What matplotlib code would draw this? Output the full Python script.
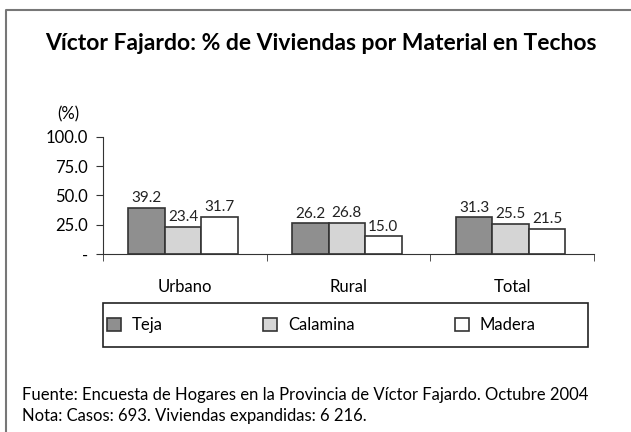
import numpy as np
import matplotlib
matplotlib.use('Agg')
import matplotlib.pyplot as plt
from matplotlib.patches import Rectangle
from matplotlib.lines import Line2D

plt.rcParams['font.family'] = ['Lato', 'DejaVu Sans']

# Data
categories = ['Urbano', 'Rural', 'Total']
series = ['Teja', 'Calamina', 'Madera']
teja = [39.2, 26.2, 31.3]
calamina = [23.4, 26.8, 25.5]
madera = [31.7, 15.0, 21.5]
yticks = [0, 25, 50, 75, 100]
ytick_labels = ['-', '25.0', '50.0', '75.0', '100.0']

colors = ['#8f8f8f', '#d5d5d5', '#ffffff']
W, H = 631, 432

fig = plt.figure(figsize=(W / 100, H / 100), dpi=100)
ax = fig.add_axes([103 / W, 1 - 254 / H, 491 / W, 117 / H])

x = np.arange(len(categories))
w = 0.223
bars = []
for i, (vals, c, name) in enumerate(zip([teja, calamina, madera], colors, series)):
    pos = x + (i - 1) * w - 0.01
    b = ax.bar(pos, vals, w, color=c, edgecolor='#333333', linewidth=1.2, label=name)
    bars.append(b)
    for xi, v in zip(pos, vals):
        ax.annotate(f'{v:.1f}', (xi, v), xytext=(0, 2), textcoords='offset points',
                    ha='center', va='bottom', fontsize=11, color='#222222')

ax.set_xlim(-0.5, 2.5)
ax.set_ylim(0, 100)
ax.set_yticks(yticks)
ax.set_yticklabels(ytick_labels, fontsize=12)
ax.set_xticks([-0.5, 0.5, 1.5, 2.5], minor=True)
ax.set_xticks(x)
ax.set_xticklabels(categories, fontsize=12)
ax.tick_params(axis='x', which='major', length=0, pad=18)
ax.tick_params(axis='x', which='minor', length=5, direction='out', color='#333333')
ax.tick_params(axis='y', length=5, direction='out', pad=6, color='#333333')
for s in ['top', 'right']:
    ax.spines[s].set_visible(False)
for s in ['left', 'bottom']:
    ax.spines[s].set_color('#333333')

fig.text(68 / W, 1 - 114 / H, '(%)', fontsize=12, ha='center', va='center')

fig.text(321 / W, 1 - 43 / H, 'Víctor Fajardo: % de Viviendas por Material en Techos',
         ha='center', va='center', fontsize=16.5, fontweight='bold')

# legend box
fig.patches.append(Rectangle((103 / W, 1 - 347 / H), 485 / W, 44.3 / H,
                             transform=fig.transFigure, fill=False,
                             edgecolor='#222222', linewidth=1.2))
leg = fig.legend(handles=bars, labels=series, loc='center left', ncol=3,
                 bbox_to_anchor=(107 / W, 1 - 325 / H), frameon=False,
                 fontsize=12, borderpad=0, borderaxespad=0,
                 handlelength=0.84, handleheight=0.84, handletextpad=0.66,
                 columnspacing=6.0)

fig.text(22 / W, 1 - 400 / H,
         'Fuente: Encuesta de Hogares en la Provincia de Víctor Fajardo. Octubre 2004',
         fontsize=12, va='baseline')
fig.text(22 / W, 1 - 421 / H, 'Nota: Casos: 693. Viviendas expandidas: 6 216.',
         fontsize=12, va='baseline')

# outer frame (top and left edges)
fig.lines.append(Line2D([6 / W, 6 / W, 1.0], [0.0, 1 - 10 / H, 1 - 10 / H],
                        transform=fig.transFigure, color='#777777', linewidth=1.5))

fig.savefig('out.png', dpi=100)
